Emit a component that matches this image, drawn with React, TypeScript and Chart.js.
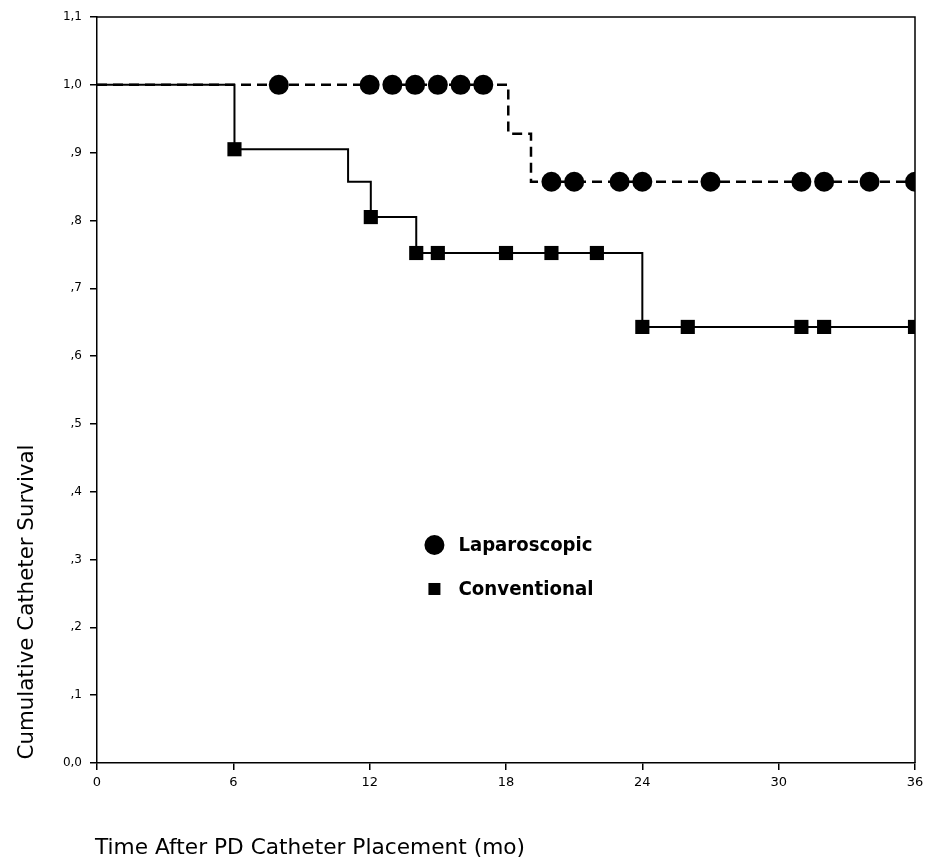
import React, { useEffect, useRef } from "react";
import { Chart, registerables } from "chart.js";

Chart.register(...registerables);

// Kaplan–Meier step curves (time in months, cumulative survival)
const lapStepX = [0, 18.1, 19.1, 36];
const lapStepY = [1.0, 0.928, 0.857, 0.857];
const convStepX = [0, 6.05, 11.05, 12.05, 14.05, 24, 36];
const convStepY = [1.0, 0.905, 0.857, 0.805, 0.752, 0.643, 0.643];

// censored marks
const lapMarkX = [8, 12, 13, 14, 15, 16, 17, 20, 21, 23, 24, 27, 31, 32, 34, 36];
const lapMarkY = [1, 1, 1, 1, 1, 1, 1, 0.857, 0.857, 0.857, 0.857, 0.857, 0.857, 0.857, 0.857, 0.857];
const convMarkX = [6.05, 12.05, 14.05, 15, 18, 20, 22, 24, 26, 31, 32, 36];
const convMarkY = [0.905, 0.805, 0.752, 0.752, 0.752, 0.752, 0.752, 0.643, 0.643, 0.643, 0.643, 0.643];

const xTicks = [0, 6, 12, 18, 24, 30, 36];
const seriesNames = ["Laparoscopic", "Conventional"];
const xTitle = "Time After PD Catheter Placement (mo)";
const yTitle = "Cumulative Catheter Survival";

const pts = (xs: number[], ys: number[]) => xs.map((x, i) => ({ x, y: ys[i] }));

function fitText(
  ctx: CanvasRenderingContext2D,
  text: string,
  x: number,
  y: number,
  width: number,
  font: string,
  rot: number,
  align: "center" | "left" = "center"
) {
  ctx.save();
  ctx.font = font;
  const w = ctx.measureText(text).width;
  ctx.translate(x, y);
  ctx.rotate(rot);
  ctx.scale(width / w, 1);
  ctx.textAlign = align;
  ctx.textBaseline = "middle";
  ctx.fillStyle = "#000";
  ctx.fillText(text, 0, 0);
  ctx.restore();
}

const decorPlugin = {
  id: "decor",
  afterDraw(chart: any) {
    const ctx: CanvasRenderingContext2D = chart.ctx;
    const a = chart.chartArea;
    ctx.save();
    ctx.strokeStyle = "#000";
    ctx.lineWidth = 1.5;
    ctx.beginPath();
    ctx.moveTo(a.left, a.top);
    ctx.lineTo(a.right, a.top);
    ctx.lineTo(a.right, a.bottom);
    ctx.stroke();

    // legend
    const xs = chart.scales.x;
    const ys = chart.scales.y;
    const lx = xs.getPixelForValue(14.85);
    const ly1 = ys.getPixelForValue(0.3215);
    const ly2 = ys.getPixelForValue(0.2566);
    ctx.fillStyle = "#000";
    ctx.beginPath();
    ctx.arc(lx, ly1, 10, 0, Math.PI * 2);
    ctx.fill();
    ctx.fillRect(lx - 6, ly2 - 6, 12, 12);
    ctx.restore();
    fitText(ctx, seriesNames[0], lx + 24, ly1 + 1, 134, "bold 19px 'DejaVu Sans'", 0, "left");
    fitText(ctx, seriesNames[1], lx + 24, ly2 + 1, 135, "bold 19px 'DejaVu Sans'", 0, "left");

    fitText(ctx, xTitle, 310, 848, 430, "22px 'DejaVu Sans'", 0);
    fitText(ctx, yTitle, 27, 602, 315, "22px 'DejaVu Sans'", -Math.PI / 2);
  },
};

export default function App() {
  const ref = useRef<HTMLCanvasElement | null>(null);
  useEffect(() => {
    if (!ref.current) return;
    const chart = new Chart(ref.current, {
      type: "line",
      data: {
        datasets: [
          {
            label: "Conventional curve",
            data: pts(convStepX, convStepY),
            stepped: "before",
            borderColor: "#000",
            borderWidth: 2,
            pointRadius: 0,
            fill: false,
          },
          {
            label: "Laparoscopic curve",
            data: pts(lapStepX, lapStepY),
            stepped: "before",
            borderColor: "#000",
            borderWidth: 2.5,
            borderDash: [10, 6],
            pointRadius: 0,
            fill: false,
          },
          {
            label: seriesNames[0],
            data: pts(lapMarkX, lapMarkY),
            showLine: false,
            pointStyle: "circle",
            pointRadius: 10,
            backgroundColor: "#000",
            borderColor: "#000",
            borderWidth: 0,
          },
          {
            label: seriesNames[1],
            data: pts(convMarkX, convMarkY),
            showLine: false,
            pointStyle: "rect",
            pointRadius: 10,
            backgroundColor: "#000",
            borderColor: "#000",
            borderWidth: 0,
          },
        ],
      } as any,
      options: {
        animation: false,
        responsive: false,
        events: [],
        layout: { padding: { left: 0, top: 17, right: 3, bottom: 0 } },
        plugins: { legend: { display: false }, tooltip: { enabled: false } },
        scales: {
          x: {
            type: "linear",
            min: 0,
            max: 36,
            afterBuildTicks: (s: any) => {
              s.ticks = xTicks.map((v) => ({ value: v }));
            },
            afterFit: (s: any) => {
              s.height = 98;
              s.paddingLeft = 0;
              s.paddingRight = 0;
            },
            ticks: {
              color: "#000",
              font: { family: "'DejaVu Sans'", size: 13 },
              padding: 5,
              maxRotation: 0,
            },
            grid: { display: true, drawOnChartArea: false, drawTicks: true, tickLength: 7, color: "#000", lineWidth: 1.5 },
            border: { display: true, color: "#000", width: 1.5 },
          },
          y: {
            type: "linear",
            min: 0,
            max: 1.1,
            ticks: {
              stepSize: 0.1,
              color: "#000",
              font: { family: "'DejaVu Sans'", size: 12 },
              padding: 8,
              callback: (v: any) => {
                const n = Math.round(Number(v) * 10);
                if (n === 0) return "0,0";
                if (n === 10) return "1,0";
                if (n === 11) return "1,1";
                return "," + n;
              },
            },
            afterFit: (s: any) => {
              s.width = 97;
              s.paddingTop = 0;
              s.paddingBottom = 0;
            },
            grid: { display: true, drawOnChartArea: false, drawTicks: true, tickLength: 7, color: "#000", lineWidth: 1.5 },
            border: { display: true, color: "#000", width: 1.5 },
          },
        },
      } as any,
      plugins: [decorPlugin],
    });
    return () => chart.destroy();
  }, []);
  return (
    <div style={{ position: "absolute", left: 0, top: 0, width: 925, height: 861, background: "#fff" }}>
      <canvas ref={ref} width={925} height={861} style={{ display: "block" }} />
    </div>
  );
}
